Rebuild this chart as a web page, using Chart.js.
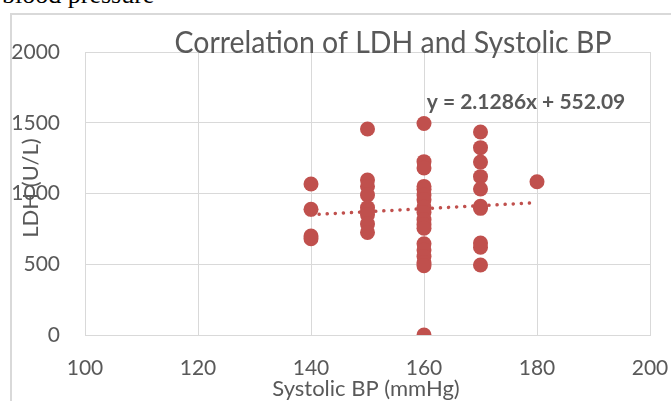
<!DOCTYPE html>
<html>
<head>
<meta charset="utf-8">
<script src="https://cdn.jsdelivr.net/npm/chart.js@4"></script>
<style>
  body { margin: 0; background: #fff; }
  #wrap { position: relative; width: 671px; height: 401px; overflow: hidden; }
  #frame { position: absolute; left: 10px; top: 13px; width: 700px; height: 420px; border: 2px solid #d9d9d9; box-sizing: border-box; }
  #caption { position: absolute; left: 2px; top: -18px; font: 26px/26px "Liberation Serif", serif; color: #000; white-space: nowrap; }
  #chart { position: absolute; left: 0; top: 0; }
</style>
</head>
<body>
<div id="wrap">
  <div id="frame"></div>
  <div id="caption">blood pressure</div>
  <canvas id="chart" width="671" height="401"></canvas>
</div>
<script>
// data
const systolicBP = [
  140, 140, 140, 140,
  150, 150, 150, 150, 150, 150, 150, 150, 150,
  160, 160, 160, 160, 160, 160, 160, 160, 160, 160, 160, 160, 160, 160, 160, 160, 160, 160,
  170, 170, 170, 170, 170, 170, 170, 170, 170, 170,
  180
];
const ldhValues = [
  1067, 888, 700, 680,
  1456, 1095, 1050, 990, 900, 875, 850, 785, 725,
  1495, 1225, 1180, 1050, 1030, 990, 955, 905, 865, 815, 780, 755, 645, 600, 555, 510, 490, 0,
  1435, 1324, 1222, 1119, 1032, 910, 895, 650, 620, 495,
  1083
];

// trendline from the equation printed on the chart
const trendSlope = 2.1286;
const trendIntercept = 552.09;
const trendRange = [140, 180];
const equationText = "y = 2.1286x + 552.09";

const xRange = [100, 200, 20];
const yRange = [0, 2000, 500];

const chartTitle = "Correlation of LDH and Systolic BP";
const xTitle = "Systolic BP (mmHg)";
const yTitle = "LDH (U/L)";

const red = "#c0504d";
const gray = "#595959";
const gridGray = "#d9d9d9";

const points = systolicBP.map((x, i) => ({ x: x, y: ldhValues[i] }));
const trendPoints = trendRange.map((x) => ({ x: x, y: trendSlope * x + trendIntercept }));

// titles and equation label
const textPlugin = {
  id: "texts",
  afterDraw(chart) {
    const ctx = chart.ctx;
    ctx.save();
    ctx.fillStyle = gray;
    ctx.textAlign = "center";
    ctx.textBaseline = "alphabetic";

    ctx.font = '30px Lato';
    ctx.fillText(chartTitle, 393, 53, 437);

    ctx.font = '22px Lato';
    ctx.fillText(xTitle, 366, 396, 207);

    ctx.font = 'bold 21px Lato';
    ctx.fillText(equationText, 526, 109, 202);

    ctx.translate(38, 188);
    ctx.rotate(-Math.PI / 2);
    ctx.font = '22px Lato';
    ctx.fillText(yTitle, 0, 0, 117);
    ctx.restore();
  }
};

new Chart(document.getElementById("chart"), {
  type: "scatter",
  data: {
    datasets: [
      {
        label: "LDH",
        data: points,
        backgroundColor: red,
        borderColor: red,
        borderWidth: 0,
        pointRadius: 7.5,
        order: 0
      },
      {
        label: "Linear",
        data: trendPoints,
        showLine: true,
        borderColor: red,
        borderWidth: 3.5,
        borderDash: [0.1, 8],
        borderCapStyle: "round",
        pointRadius: 0,
        order: 1
      }
    ]
  },
  options: {
    responsive: false,
    animation: false,
    layout: { padding: { left: 0, top: 52, right: 21, bottom: 0 } },
    plugins: {
      legend: { display: false },
      tooltip: { enabled: false }
    },
    scales: {
      x: {
        min: xRange[0],
        max: xRange[1],
        ticks: {
          stepSize: xRange[2], color: gray, font: { family: "Lato", size: 21 }, padding: 21, maxRotation: 0,
          callback: (v) => String(v)
        },
        grid: { color: gridGray, drawTicks: false },
        border: { color: gridGray },
        afterFit(scale) {
          scale.height = 66;
          scale.paddingLeft = 0;
          scale.paddingRight = 0;
        }
      },
      y: {
        min: yRange[0],
        max: yRange[1],
        ticks: {
          stepSize: yRange[2], color: gray, font: { family: "Lato", size: 21 }, padding: 25,
          callback: (v) => String(v)
        },
        grid: { color: gridGray, drawTicks: false },
        border: { color: gridGray },
        afterFit(scale) {
          scale.width = 85;
          scale.paddingTop = 0;
          scale.paddingBottom = 0;
        }
      }
    }
  },
  plugins: [textPlugin]
});
</script>
</body>
</html>
